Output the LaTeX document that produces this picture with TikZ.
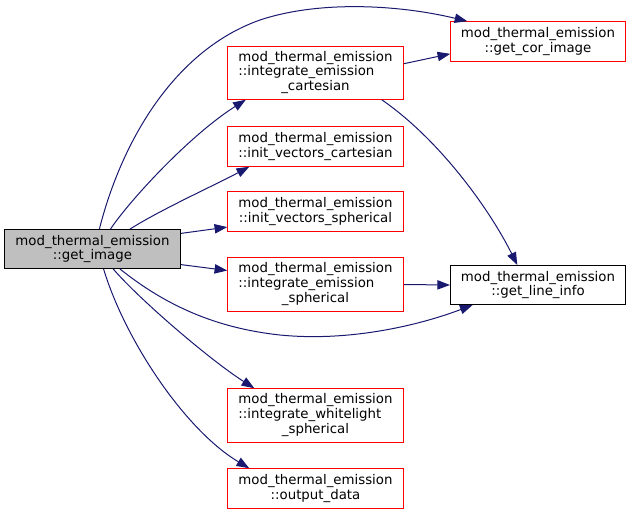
\documentclass[tikz,border=0pt]{standalone}
\usepackage{fontspec}
\setmainfont{DejaVu Sans}
\usetikzlibrary{arrows.meta}
\definecolor{edgeblue}{HTML}{191970}
\definecolor{rootgray}{HTML}{BFBFBF}
\definecolor{boxred}{HTML}{FF0000}

\begin{document}
\begin{tikzpicture}[x=0.75pt, y=-0.75pt,
    every node/.style={font=\fontsize{10}{11}\selectfont, inner sep=0pt},
    fn/.style={minimum width=176*0.75pt, align=center},
    root/.style={fn, draw=black, line width=0.75pt, fill=rootgray},
    leaf/.style={fn, draw=black, line width=0.75pt},
    frame/.style={draw=boxred, line width=0.75pt},
    call/.style={draw=edgeblue, line width=0.75pt, -{Triangle[length=9.5pt, width=7pt, fill=edgeblue]}}]

      \useasboundingbox (0,0) rectangle (631,515);

      % Caller
      \node[root, minimum height=39*0.75pt] (img) at (92.5,249) {mod\_thermal\_emission\\::get\_image};

      % Callees
      \node[fn, minimum width=175*0.75pt, minimum height=40*0.75pt] (cor) at (538,41.5) {mod\_thermal\_emission\\::get\_cor\_image};
      \node[fn, minimum height=53*0.75pt] (iec) at (315.5,73)
        {\begin{tabular}{@{}l@{}}mod\_thermal\_emission\\::integrate\_emission\\\multicolumn{1}{@{}c@{}}{\_cartesian}\end{tabular}};
      \node[fn, minimum height=40*0.75pt] (ivc) at (315.5,146.5) {mod\_thermal\_emission\\::init\_vectors\_cartesian};
      \node[fn, minimum height=40*0.75pt] (ivs) at (315.5,211.5) {mod\_thermal\_emission\\::init\_vectors\_spherical};
      \node[fn, minimum height=54*0.75pt] (ies) at (315.5,284.5)
        {\begin{tabular}{@{}l@{}}mod\_thermal\_emission\\::integrate\_emission\\\multicolumn{1}{@{}c@{}}{\_spherical}\end{tabular}};
      \node[leaf, minimum width=175*0.75pt, minimum height=39*0.75pt] (gli) at (538,285) {mod\_thermal\_emission\\::get\_line\_info};
      \node[fn, minimum height=54*0.75pt] (iws) at (315.5,415.5)
        {\begin{tabular}{@{}l@{}}mod\_thermal\_emission\\::integrate\_whitelight\\\multicolumn{1}{@{}c@{}}{\_spherical}\end{tabular}};
      \node[fn, minimum height=40*0.75pt] (out) at (315.5,488.5) {mod\_thermal\_emission\\::output\_data};

      % Red frames of the callees
      \foreach \n in {cor,iec,ivc,ivs,ies,iws,out}
        \draw[frame] (\n.north west) rectangle (\n.south east);

      % Calls from get_image
      \draw[call] (img.71) .. controls (122,140) and (175,50) .. (260,20)
                  .. controls (320,0) and (400,5) .. (cor.164);
      \draw[call] (img.48) .. controls (130,200) and (190,135) .. (iec.201);
      \draw[call] (img.28) .. controls (160,210) and (215,185) .. (ivc.197);
      \draw[call] (img.10) -- (ivs.190);
      \draw[call] (img.-10) -- (ies.171);
      \draw[call] (img.-36) .. controls (165,305) and (215,328) .. (280,335)
                  .. controls (350,342) and (420,325) .. (gli.-163);
      \draw[call] (img.-44) .. controls (140,300) and (210,360) .. (iws.156);
      \draw[call] (img.-61) .. controls (125,340) and (185,430) .. (out.163);

      % Calls from the integrators
      \draw[call] (iec.6) -- (cor.188);
      \draw[call] (iec.-22) .. controls (440,140) and (490,210) .. (gli.136);
      \draw[call] (ies.east) -- (gli.west);

\end{tikzpicture}
\end{document}
